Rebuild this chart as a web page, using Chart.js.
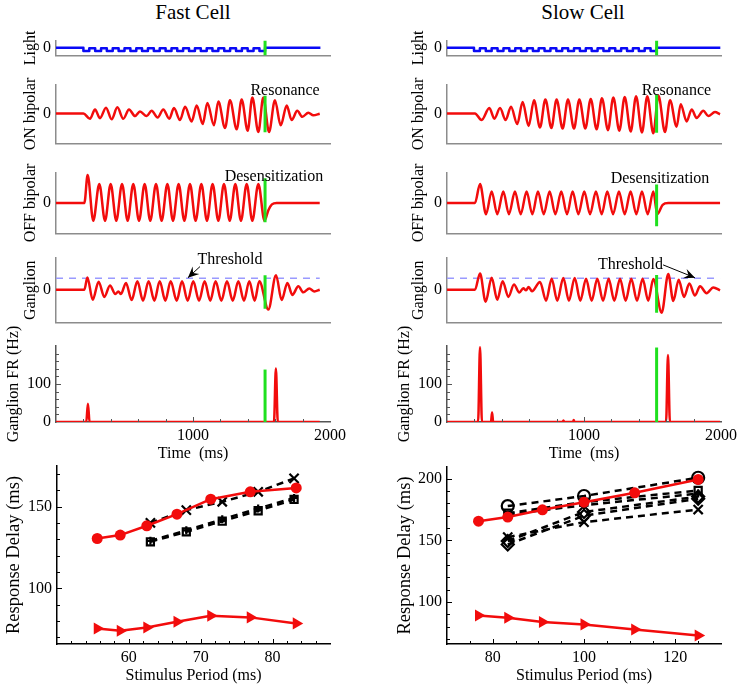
<!DOCTYPE html>
<html>
<head>
<meta charset="utf-8">
<script src="https://cdn.jsdelivr.net/npm/chart.js@4.4.0/dist/chart.umd.min.js"></script>
<style>
  body { margin: 0; background: #fff; width: 743px; height: 689px; position: relative; overflow: hidden; font-family: "Liberation Serif", serif; }
  canvas { position: absolute; }
  .ttl { position: absolute; top: 0; font-size: 21px; transform: translateX(-50%); white-space: nowrap; }
</style>
</head>
<body>
<div class="ttl" style="left:193px">Fast Cell</div>
<div class="ttl" style="left:583px">Slow Cell</div>
<script>
// ---------- Fast cell traces (time in ms, amplitude in arbitrary units) ----------
const lightFastT = [0, 200, 243, 286, 329, 371, 414, 457, 500, 543, 586, 628, 671, 714, 757, 800, 843, 885, 928, 971, 1014, 1057, 1100, 1142, 1185, 1228, 1271, 1314, 1357, 1399, 1442, 1485, 1526, 1930];
const lightFastV = [0, -1, -0.2, -1, -0.2, -1, -0.2, -1, -0.2, -1, -0.2, -1, -0.2, -1, -0.2, -1, -0.2, -1, -0.2, -1, -0.2, -1, -0.2, -1, -0.2, -1, -0.2, -1, -0.2, -1, -0.2, -1, 0, 0];

const onFastT = [0, 200, 248, 285, 321, 365, 406, 448, 491, 533, 577, 613, 662, 698, 742, 783, 827, 861, 905, 942, 990, 1027, 1071, 1105, 1153, 1185, 1234, 1270, 1319, 1355, 1399, 1433, 1477, 1513, 1555, 1598, 1640, 1684, 1720, 1761, 1798, 1842, 1878, 1925];
const onFastV = [0, 0, -6.7, 5, -6, 7.3, -7.3, 7.7, -6.7, 5, -3.3, 2.3, -3.3, 3.3, -5, 5, -6.7, 6.7, -8.3, 8.3, -10, 10, -13.3, 13.3, -15, 15, -18.3, 16.7, -20, 17.7, -21.7, 20, -23.3, 20, -23.3, 16.7, -15, 10, -8.3, 3.3, -4.3, 1, -2.3, -0.3];

const offFastT = [0, 207, 231, 272, 316, 358, 399, 440, 482, 523, 564, 606, 647, 688, 730, 771, 813, 854, 895, 937, 978, 1019, 1061, 1102, 1143, 1185, 1226, 1268, 1309, 1350, 1392, 1433, 1477, 1522, 1550, 1576, 1611, 1925];
const offFastV = [0, 0, 35, -22.3, 23.7, -22.3, 23.7, -22.3, 23.7, -22.3, 23.7, -22.3, 23.7, -22.3, 23.7, -22.3, 23.7, -22.3, 23.7, -22.3, 23.7, -22.3, 23.7, -22.3, 23.7, -22.3, 23.7, -22.3, 23.7, -22.3, 23.7, -22.3, 23.7, -22.3, -9, -1.7, 0, 0];

const ganFastT = [0, 207, 229, 268, 311, 353, 394, 433, 455, 474, 511, 552, 594, 635, 676, 718, 757, 798, 837, 881, 920, 961, 1002, 1044, 1085, 1126, 1165, 1207, 1248, 1290, 1331, 1372, 1411, 1450, 1484, 1550, 1606, 1647, 1689, 1725, 1769, 1805, 1849, 1886, 1925];
const ganFastV = [0, 0, 14.3, -11.7, 9.3, -8.3, 5, -5, -2, -5, 8, -12, 10, -12.7, 10, -12.7, 10, -12.7, 10, -12.7, 10, -12.7, 10, -12.7, 10, -12.7, 10, -12.7, 10, -12.7, 10, -12.7, 10, -12.7, 10, -23, 17, -12, 8, -6, 4, -3, 1.5, -2, 0];

const frFastT = [0, 221, 233, 245, 1591, 1605, 1619, 1925];
const frFastV = [0, 0, 48, 0, 0, 141, 0, 0];

// ---------- Slow cell traces ----------
const lightSlowT = [0, 197, 240, 283, 326, 369, 412, 455, 498, 541, 584, 627, 669, 712, 755, 798, 841, 884, 927, 970, 1013, 1056, 1099, 1142, 1185, 1228, 1271, 1314, 1357, 1400, 1443, 1486, 1530, 1995];
const lightSlowV = [0, -1, -0.2, -1, -0.2, -1, -0.2, -1, -0.2, -1, -0.2, -1, -0.2, -1, -0.2, -1, -0.2, -1, -0.2, -1, -0.2, -1, -0.2, -1, -0.2, -1, -0.2, -1, -0.2, -1, -0.2, -1, 0, 0];

const onSlowT = [0, 204, 253, 309, 346, 387, 428, 467, 513, 552, 596, 635, 679, 718, 762, 800, 844, 883, 927, 966, 1010, 1049, 1092, 1131, 1175, 1214, 1258, 1297, 1341, 1380, 1423, 1462, 1506, 1543, 1591, 1628, 1676, 1706, 1749, 1786, 1822, 1871, 1907, 1956, 1993];
const onSlowV = [0, 0, -8.3, 6.7, -6.7, 6.7, -8.3, 8.3, -13.3, 14.3, -15.7, 16.7, -17.7, 17.7, -18.3, 17.7, -19, 17.7, -19, 17.7, -19, 18.3, -20, 19, -21, 20, -21.7, 20.7, -22.7, 21.7, -24, 21.7, -25, 22.7, -23.3, 16.7, -16.7, 11.7, -10, 5, -5.7, 3.3, -3.3, 1.7, -1];

const offSlowT = [0, 204, 241, 285, 326, 367, 411, 452, 496, 538, 581, 623, 664, 706, 749, 791, 834, 876, 917, 959, 1002, 1044, 1087, 1129, 1170, 1212, 1255, 1297, 1340, 1382, 1423, 1465, 1506, 1535, 1574, 1615, 1993];
const offSlowV = [0, 0, 23.7, -14, 14.3, -14, 14.3, -14, 14.3, -14, 14.3, -14, 14.3, -14, 14.3, -14, 14.3, -14, 14.3, -14, 14.3, -14, 14.3, -14, 14.3, -14, 14.3, -14, 14.3, -14, 14.3, -14, 14.3, -14, -2.3, 0, 0];

const ganSlowT = [0, 204, 241, 282, 326, 367, 406, 448, 489, 528, 557, 577, 596, 620, 679, 723, 764, 805, 849, 890, 932, 973, 1015, 1056, 1097, 1139, 1180, 1221, 1263, 1304, 1345, 1387, 1428, 1469, 1506, 1567, 1615, 1652, 1691, 1730, 1769, 1810, 1847, 1895, 1944, 1993];
const ganSlowV = [0, 0, 19, -14, 14, -11.7, 10, -8.3, 6, -3.3, 1.7, -0.7, 3.3, -1.7, 9, -12.7, 12.7, -12.7, 13.8, -12.7, 13.8, -12.7, 12.7, -12.7, 12.7, -12.7, 12.7, -12.7, 12.7, -12.7, 12.7, -12.7, 12.7, -12.7, 12.5, -26.7, 18.3, -13, 11.7, -8.3, 7.3, -6.7, 4, -4, 2.7, -0.7];

const frSlowT = [0, 227, 241, 255, 321, 329, 337, 844, 850, 856, 919, 925, 931, 1599, 1613, 1627, 1993];
const frSlowV = [0, 0, 197, 0, 0, 25, 0, 0, 4, 0, 0, 5, 0, 0, 176, 0, 0];

// green stimulus-offset marker: time and vertical extent in each panel
const greenFastT = 1526, greenSlowT = 1530;
const greenFastOn = [-23.7, 22.3], greenFastOff = [-24, 31], greenFastGan = [-22, 17], greenFastFr = [0, 138];
const greenSlowOn = [-24.4, 23.3], greenSlowOff = [-29, 23], greenSlowGan = [-26.7, 17.3], greenSlowFr = [0, 196];
const threshold = 13.3;

// ---------- Response delay vs stimulus period ----------
const periodFastModel = [55.6, 58.8, 62.5, 66.7, 71.4, 76.9, 83.3];
const delayFastModel = [130.6, 132.7, 138.4, 145.5, 154.7, 159.2, 161.6];
const delayFastBipolar = [75.5, 74.1, 76.1, 79.6, 83.3, 82.3, 78.6];
const periodFastExp = [63, 68, 73, 78, 83];
const delayFastCross = [140.2, 148, 153.1, 159.2, 167.4];
const delayFastSquare = [128.6, 134.7, 141.2, 147.6, 154.5];
const delayFastPlus = [129.2, 135.6, 142.4, 149, 155.4];

const periodSlowModel = [76.9, 83.3, 90.9, 100, 111.1, 125];
const delaySlowModel = [165.6, 168.9, 174.8, 181, 188.6, 199.4];
const delaySlowBipolar = [89.1, 87.3, 83.8, 81.9, 77.8, 72.9];
const periodSlowExp = [83.3, 100, 125];
const delaySlowCircle = [177.8, 186, 200.8];
const delaySlowSquare = [172, 181, 190.5];
const delaySlowPlus = [171, 178.5, 188];
const delaySlowDiamondA = [149.5, 173, 185.5];
const delaySlowDiamondB = [146.7, 170, 183.8];
const delaySlowCross = [152.6, 164.8, 175];

// tick values
const zeroTick = [0];
const timeTicks = [1000, 2000], timeMinor = [200, 400, 600, 800, 1200, 1400, 1600, 1800];
const frTicks = [0, 100], frMinor = [20, 40, 60, 80, 120, 140, 160, 180];
const periodFastTicks = [60, 70, 80], periodFastMinor = [52, 54, 56, 58, 62, 64, 66, 68, 72, 74, 76, 78, 82, 84, 86];
const delayFastTicks = [100, 150], delayFastMinor = [70, 80, 90, 110, 120, 130, 140, 160, 170];
const periodSlowTicks = [80, 100, 120], periodSlowMinor = [75, 85, 90, 95, 105, 110, 115, 125];
const delaySlowTicks = [100, 150, 200], delaySlowMinor = [70, 80, 90, 110, 120, 130, 140, 160, 170, 180, 190];

const RED = '#f20c0c', BLUE = '#0a0af5', GREEN = '#1fe01f', LBLUE = '#9a9aff';
const FONT = '"Liberation Serif", "Times New Roman", serif';

Chart.defaults.font.family = FONT;
Chart.defaults.font.size = 16;
Chart.defaults.color = '#000';

const pts = (xs, ys) => xs.map((x, i) => ({ x: x, y: ys[i] }));

// text labels, arrows and rotated y titles
const notesPlugin = {
  id: 'notes',
  afterDatasetsDraw(chart, args, opts) {
    const ctx = chart.ctx, xs = chart.scales.x, ys = chart.scales.y, a = chart.chartArea;
    ctx.save();
    ctx.font = '16px ' + FONT;
    ctx.fillStyle = '#000';
    ctx.strokeStyle = '#000';
    ctx.textAlign = 'center';
    ctx.textBaseline = 'middle';
    (opts.texts || []).forEach(t => ctx.fillText(t.text, xs.getPixelForValue(t.x), ys.getPixelForValue(t.y)));
    (opts.arrows || []).forEach(ar => {
      const x0 = xs.getPixelForValue(ar.from[0]), y0 = ys.getPixelForValue(ar.from[1]);
      const x1 = xs.getPixelForValue(ar.to[0]), y1 = ys.getPixelForValue(ar.to[1]);
      const ang = Math.atan2(y1 - y0, x1 - x0);
      ctx.lineWidth = 1;
      ctx.beginPath(); ctx.moveTo(x0, y0); ctx.lineTo(x1, y1); ctx.stroke();
      ctx.beginPath();
      ctx.moveTo(x1, y1);
      ctx.lineTo(x1 - 11 * Math.cos(ang) + 5 * Math.sin(ang), y1 - 11 * Math.sin(ang) - 5 * Math.cos(ang));
      ctx.lineTo(x1 - 7 * Math.cos(ang), y1 - 7 * Math.sin(ang));
      ctx.lineTo(x1 - 11 * Math.cos(ang) - 5 * Math.sin(ang), y1 - 11 * Math.sin(ang) + 5 * Math.cos(ang));
      ctx.closePath(); ctx.fill();
    });
    if (opts.yTitle) {
      ctx.font = (opts.yTitleSize || 16) + 'px ' + FONT;
      ctx.translate(a.left - opts.yTitleDx, (a.top + a.bottom) / 2);
      ctx.rotate(-Math.PI / 2);
      ctx.fillText(opts.yTitle, 0, 0);
    }
    ctx.restore();
  }
};

// inward tick marks, matlab style
const tickPlugin = {
  id: 'inTicks',
  afterDraw(chart, args, opts) {
    const ctx = chart.ctx, a = chart.chartArea;
    ctx.save();
    ctx.strokeStyle = opts.color || '#000';
    ctx.lineWidth = 1;
    const draw = (axis, list, len) => (list || []).forEach(v => {
      const p = Math.round(chart.scales[axis].getPixelForValue(v)) + 0.5;
      ctx.beginPath();
      if (axis === 'x') { ctx.moveTo(p, a.bottom); ctx.lineTo(p, a.bottom - len); }
      else { ctx.moveTo(a.left, p); ctx.lineTo(a.left + len, p); }
      ctx.stroke();
    });
    draw('x', opts.xMajor, 5); draw('x', opts.xMinor, 3);
    draw('y', opts.yMajor, 5); draw('y', opts.yMinor, 3);
    ctx.restore();
  }
};

function makePanel(cfg) {
  const L = 56, R = 22, T = cfg.top || 10, B = cfg.bottom || 4;
  const w = cfg.x1 - cfg.x0 + L + R, h = cfg.y1 - cfg.y0 + T + B;
  const c = document.createElement('canvas');
  c.width = w; c.height = h;
  c.style.left = (cfg.x0 - L) + 'px'; c.style.top = (cfg.y0 - T) + 'px';
  c.style.width = w + 'px'; c.style.height = h + 'px';
  document.body.appendChild(c);
  const axisColor = cfg.axisColor || '#8c8c8c';
  new Chart(c, {
    type: 'line',
    data: { datasets: cfg.datasets },
    options: {
      responsive: false, animation: false, events: [],
      layout: { padding: { left: 0, right: R, top: T, bottom: 0 } },
      elements: { point: { radius: 0 }, line: { borderCapStyle: 'butt', borderJoinStyle: 'round' } },
      plugins: {
        legend: { display: false }, tooltip: { enabled: false },
        notes: { texts: cfg.texts, arrows: cfg.arrows, yTitle: cfg.yTitle, yTitleDx: cfg.yTitleDx, yTitleSize: cfg.yTitleSize },
        inTicks: Object.assign({ color: axisColor }, cfg.ticks || {})
      },
      scales: {
        x: {
          type: 'linear', min: cfg.xmin, max: cfg.xmax,
          afterFit: s => { s.height = B; },
          afterBuildTicks: s => { s.ticks = (cfg.xTicks || []).map(v => ({ value: v })); },
          ticks: { display: !!cfg.xTicks, callback: v => String(v), padding: 4, maxRotation: 0, autoSkip: false },
          grid: { display: false, drawTicks: false },
          border: { display: true, color: axisColor, width: 1.5 },
          title: { display: !!cfg.xTitle, text: cfg.xTitle, padding: { top: 0, bottom: 1 } }
        },
        y: {
          type: 'linear', min: cfg.ymin, max: cfg.ymax,
          afterFit: s => { s.width = L; },
          afterBuildTicks: s => { s.ticks = cfg.yTicks.map(v => ({ value: v })); },
          ticks: { callback: v => String(v), padding: 5, autoSkip: false },
          grid: { display: false, drawTicks: false },
          border: { display: true, color: axisColor, width: 1.5 }
        }
      }
    },
    plugins: [notesPlugin, tickPlugin]
  });
}

const trace = (t, v, color) => ({ data: pts(t, v), borderColor: color, borderWidth: 2.5, cubicInterpolationMode: 'monotone', pointRadius: 0 });
const stepTrace = (t, v) => ({ data: pts(t, v), borderColor: BLUE, borderWidth: 2.5, stepped: true, pointRadius: 0 });
const greenBar = (t, ext) => ({ data: pts([t, t], ext), borderColor: GREEN, borderWidth: 3, pointRadius: 0 });
const dashed = (t0, t1, y) => ({ data: pts([t0, t1], [y, y]), borderColor: LBLUE, borderWidth: 1.5, borderDash: [7, 6], pointRadius: 0 });

function column(side) {
  const fast = side === 'fast';
  const x0 = fast ? 56 : 447, x1 = fast ? 330 : 721;
  const dx = fast ? 25 : 28;
  const tEnd = fast ? 1925 : 1993;
  const gT = fast ? greenFastT : greenSlowT;
  const base = { x0, x1, xmin: 0, xmax: 2000, yTicks: zeroTick, yTitleDx: dx };

  makePanel(Object.assign({}, base, {
    y0: 32, y1: 66, ymin: -2.3, ymax: 2.1, top: 6, yTitle: 'Light',
    datasets: [greenBar(gT, [-2.3, 2.1]), stepTrace(fast ? lightFastT : lightSlowT, fast ? lightFastV : lightSlowV)]
  }));
  makePanel(Object.assign({}, base, {
    y0: 80, y1: 154, ymin: -37.7, ymax: 36.3, yTitle: 'ON bipolar',
    texts: [{ text: 'Resonance', x: fast ? 1672 : 1675, y: 29 }],
    datasets: [greenBar(gT, fast ? greenFastOn : greenSlowOn), trace(fast ? onFastT : onSlowT, fast ? onFastV : onSlowV, RED)]
  }));
  makePanel(Object.assign({}, base, {
    y0: 168, y1: 244, ymin: -38, ymax: 38, yTitle: 'OFF bipolar',
    texts: [{ text: 'Desensitization', x: fast ? 1591 : 1555, y: fast ? 33.3 : 30 }],
    datasets: [greenBar(gT, fast ? greenFastOff : greenSlowOff), trace(fast ? offFastT : offSlowT, fast ? offFastV : offSlowV, RED)]
  }));
  makePanel(Object.assign({}, base, {
    y0: 258, y1: 333, ymin: -38, ymax: 37, top: 18, yTitle: 'Ganglion',
    texts: [{ text: 'Threshold', x: fast ? 1270 : 1339, y: fast ? 35 : 29.3 }],
    arrows: [fast ? { from: [1051, 27], to: [963, 14] } : { from: [1577, 29], to: [1810, 14] }],
    datasets: [greenBar(gT, fast ? greenFastGan : greenSlowGan),
      trace(fast ? ganFastT : ganSlowT, fast ? ganFastV : ganSlowV, RED),
      dashed(0, tEnd, threshold)]
  }));
  makePanel(Object.assign({}, base, {
    y0: 346, y1: 422, ymin: 0, ymax: 200, top: 40, bottom: 42, yTicks: frTicks, xTicks: timeTicks,
    xTitle: 'Time  (ms)', yTitle: 'Ganglion FR (Hz)', yTitleDx: 42, axisColor: '#555',
    ticks: { xMajor: [1000], xMinor: timeMinor, yMajor: [100], yMinor: frMinor },
    datasets: [greenBar(gT, fast ? greenFastFr : greenSlowFr), trace(fast ? frFastT : frSlowT, fast ? frFastV : frSlowV, RED)]
  }));
}

column('fast');
column('slow');

const modelLine = (xs, ys, style, r, rot) => ({
  data: pts(xs, ys), borderColor: RED, backgroundColor: RED, borderWidth: 2.5,
  pointStyle: style, pointRadius: r, rotation: rot || 0, pointBorderWidth: 0, pointBackgroundColor: RED
});
const expLine = (xs, ys, style, r) => ({
  data: pts(xs, ys), borderColor: '#000', borderWidth: 2.5, borderDash: [7, 5],
  pointStyle: style, pointRadius: r, pointBorderColor: '#000', pointBackgroundColor: 'rgba(0,0,0,0)', pointBorderWidth: 2.2
});

makePanel({
  x0: 57, x1: 330, y0: 466, y1: 644, xmin: 50, xmax: 88, ymin: 66, ymax: 175, top: 30, bottom: 42,
  xTicks: periodFastTicks, yTicks: delayFastTicks, axisColor: '#000',
  xTitle: 'Stimulus Period (ms)', yTitle: 'Response Delay (ms)', yTitleDx: 43, yTitleSize: 18.5,
  ticks: { xMajor: periodFastTicks, xMinor: periodFastMinor, yMajor: delayFastTicks, yMinor: delayFastMinor },
  datasets: [
    modelLine(periodFastModel, delayFastModel, 'circle', 5.5),
    modelLine(periodFastModel, delayFastBipolar, 'triangle', 7, 90),
    expLine(periodFastExp, delayFastCross, 'crossRot', 6.5),
    expLine(periodFastExp, delayFastPlus, 'cross', 4),
    expLine(periodFastExp, delayFastSquare, 'rect', 5)
  ]
});

makePanel({
  x0: 447, x1: 721, y0: 467, y1: 644, xmin: 70, xmax: 130, ymin: 66, ymax: 209.5, top: 30, bottom: 42,
  xTicks: periodSlowTicks, yTicks: delaySlowTicks, axisColor: '#000',
  xTitle: 'Stimulus Period (ms)', yTitle: 'Response Delay (ms)', yTitleDx: 42, yTitleSize: 18.5,
  ticks: { xMajor: periodSlowTicks, xMinor: periodSlowMinor, yMajor: delaySlowTicks, yMinor: delaySlowMinor },
  datasets: [
    modelLine(periodSlowModel, delaySlowModel, 'circle', 5.5),
    modelLine(periodSlowModel, delaySlowBipolar, 'triangle', 7, 90),
    expLine(periodSlowExp, delaySlowCircle, 'circle', 6),
    expLine(periodSlowExp, delaySlowSquare, 'rect', 5),
    expLine(periodSlowExp, delaySlowPlus, 'cross', 4),
    expLine(periodSlowExp, delaySlowDiamondA, 'rectRot', 6),
    expLine(periodSlowExp, delaySlowDiamondB, 'rectRot', 6),
    expLine(periodSlowExp, delaySlowCross, 'crossRot', 6.5)
  ]
});
</script>
</body>
</html>
